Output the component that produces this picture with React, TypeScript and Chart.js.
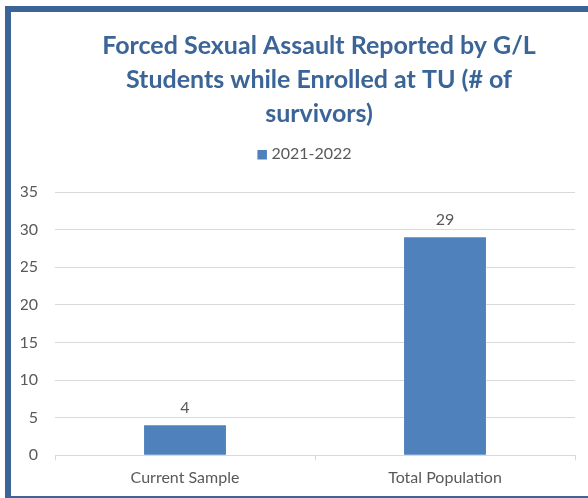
import { useEffect, useRef } from "react";
import { Chart, registerables } from "chart.js";

Chart.register(...registerables);

const categories = ["Current Sample", "Total Population"];
const seriesName = "2021-2022";
const values = [4, 29];
const titleLines = [
  "Forced Sexual Assault Reported by G/L",
  "Students while Enrolled at TU (# of",
  "survivors)",
];
const yMin = 0;
const yMax = 35;
const yStep = 5;

const FONT = "Lato, 'Open Sans', sans-serif";
const TEXT = "#595959";
const TITLE_COLOR = "#3B6497";
const BAR = "#4F81BD";
const GRID = "#D9D9D9";
const FRAME = "#3C6496";

const headerPlugin = {
  id: "header",
  afterDraw(chart: any) {
    const { ctx, chartArea } = chart;
    const cx = (chartArea.left + chartArea.right) / 2 + 4;
    ctx.save();
    ctx.fillStyle = TITLE_COLOR;
    ctx.font = `bold 25px ${FONT}`;
    ctx.textAlign = "center";
    ctx.textBaseline = "alphabetic";
    titleLines.forEach((line, i) => ctx.fillText(line, cx, 54 + i * 34));
    // legend
    ctx.font = `16px ${FONT}`;
    const tw = ctx.measureText(seriesName).width;
    const box = 9.5;
    const gap = 4.5;
    const total = box + gap + tw;
    const lx = cx - 14.5 - total / 2;
    ctx.fillStyle = BAR;
    ctx.fillRect(lx, 150, box, box);
    ctx.fillStyle = TEXT;
    ctx.textAlign = "left";
    ctx.fillText(seriesName, lx + box + gap, 158.5);
    ctx.restore();
  },
};

const valueLabelPlugin = {
  id: "valueLabels",
  afterDatasetsDraw(chart: any) {
    const { ctx } = chart;
    ctx.save();
    ctx.font = `16px ${FONT}`;
    ctx.fillStyle = TEXT;
    ctx.textAlign = "center";
    ctx.textBaseline = "alphabetic";
    chart.getDatasetMeta(0).data.forEach((bar: any, i: number) => {
      ctx.fillText(String(values[i]), bar.x, bar.y - 12.5);
    });
    ctx.restore();
  },
};

export default function App() {
  const ref = useRef<HTMLCanvasElement | null>(null);

  useEffect(() => {
    if (!ref.current) return;
    const chart = new Chart(ref.current, {
      type: "bar",
      data: {
        labels: categories,
        datasets: [
          {
            label: seriesName,
            data: values,
            backgroundColor: BAR,
            barPercentage: 0.315,
            categoryPercentage: 1,
          },
        ],
      },
      options: {
        animation: false,
        responsive: false,
        devicePixelRatio: 1,
        layout: { padding: { left: 21, right: 13, top: 192, bottom: 2.5 } },
        plugins: {
          legend: { display: false },
          title: { display: false },
          tooltip: { enabled: false },
        },
        scales: {
          x: {
            grid: {
              display: true,
              drawOnChartArea: false,
              drawTicks: true,
              tickLength: 5,
              color: GRID,
              offset: true,
            },
            border: { color: GRID },
            ticks: { color: TEXT, font: { family: FONT, size: 16 }, padding: 8 },
          },
          y: {
            min: yMin,
            max: yMax,
            ticks: {
              stepSize: yStep,
              color: TEXT,
              font: { family: FONT, size: 16 },
              padding: 17,
            },
            grid: { color: GRID, drawTicks: false },
            border: { display: false },
            afterFit: (s: any) => {
              s.width = 34;
            },
          },
        },
      },
      plugins: [headerPlugin, valueLabelPlugin],
    });
    return () => chart.destroy();
  }, []);

  return (
    <div
      style={{
        position: "absolute",
        left: 0,
        top: 0,
        width: 588,
        height: 498,
        overflow: "hidden",
        background: "#fff",
      }}
    >
      <div
        style={{
          position: "absolute",
          left: 5,
          top: 6,
          width: 700,
          height: 496,
          border: `6px solid ${FRAME}`,
          boxSizing: "border-box",
        }}
      />
      <canvas
        ref={ref}
        width={588}
        height={498}
        style={{ position: "absolute", left: 0, top: 0, width: 588, height: 498 }}
      />
    </div>
  );
}
